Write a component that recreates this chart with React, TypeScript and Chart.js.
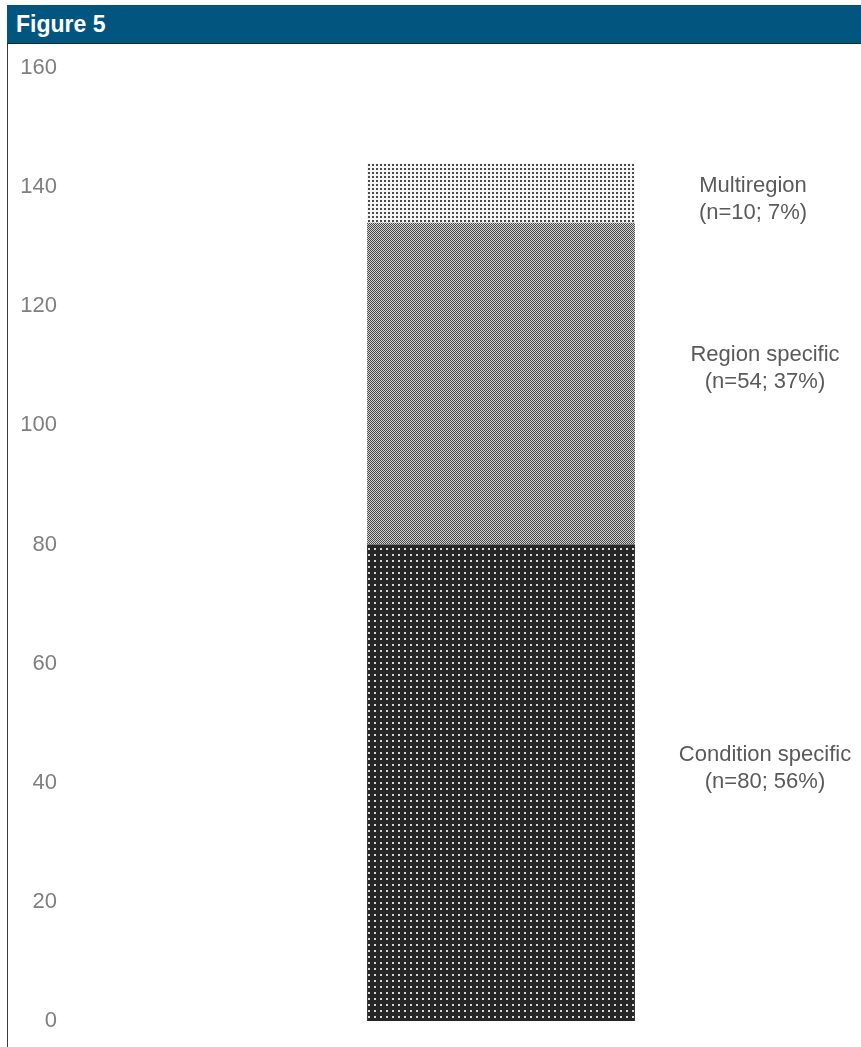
import React, { useEffect, useRef } from "react";
import { Chart, registerables } from "chart.js";

Chart.register(...registerables);

const categories = ["All"];
const seriesNames = ["Condition specific", "Region specific", "Multiregion"];
const conditionSpecific = [80];
const regionSpecific = [54];
const multiregion = [10];
const seriesLabels = [
  ["Condition specific", "(n=80; 56%)"],
  ["Region specific", "(n=54; 37%)"],
  ["Multiregion", "(n=10; 7%)"],
];
const yTicks = [0, 20, 40, 60, 80, 100, 120, 140, 160];

const FONT = "'Liberation Sans', Arial, sans-serif";

function makePattern(kind: string): CanvasPattern | string {
  const c = document.createElement("canvas");
  const ctx = c.getContext("2d");
  if (!ctx) return "#888";
  if (kind === "light") {
    c.width = 4; c.height = 4;
    ctx.fillStyle = "#f6f6f6"; ctx.fillRect(0, 0, 4, 4);
    ctx.fillStyle = "#4a4a4a"; ctx.fillRect(0, 0, 2, 2);
  } else if (kind === "mid") {
    c.width = 2; c.height = 2;
    ctx.fillStyle = "#d2d2d2"; ctx.fillRect(0, 0, 2, 2);
    ctx.fillStyle = "#484848"; ctx.fillRect(0, 0, 1, 1); ctx.fillRect(1, 1, 1, 1);
  } else {
    c.width = 6; c.height = 6;
    ctx.fillStyle = "#262626"; ctx.fillRect(0, 0, 6, 6);
    ctx.fillStyle = "#d8d8d8"; ctx.fillRect(0, 0, 2, 2);
  }
  const p = ctx.createPattern(c, "repeat");
  return p || "#888";
}

const tickPlugin = {
  id: "yTickLabels",
  afterDraw(chart: any) {
    const ctx = chart.ctx;
    const y = chart.scales.y;
    ctx.save();
    ctx.font = "22px " + FONT;
    ctx.fillStyle = "#7f7f7f";
    ctx.textAlign = "right";
    ctx.textBaseline = "middle";
    yTicks.forEach((v) => {
      ctx.fillText(String(v), 49, y.getPixelForValue(v));
    });
    ctx.restore();
  },
};

const labelPlugin = {
  id: "segLabels",
  afterDatasetsDraw(chart: any) {
    const ctx = chart.ctx;
    const offsets = [-14, -15, 6];
    const xs = [757, 757, 745];
    ctx.save();
    ctx.font = "22px " + FONT;
    ctx.fillStyle = "#5a5a5a";
    ctx.textAlign = "center";
    ctx.textBaseline = "middle";
    chart.data.datasets.forEach((ds: any, i: number) => {
      const meta = chart.getDatasetMeta(i);
      const el = meta.data[0];
      if (!el) return;
      const cy = (el.y + el.base) / 2 + offsets[i];
      const cx = xs[i];
      const lines = seriesLabels[i];
      ctx.fillText(lines[0], cx, cy - 13.5);
      ctx.fillText(lines[1], cx, cy + 13.5);
    });
    ctx.restore();
  },
};

export default function App() {
  const ref = useRef<HTMLCanvasElement | null>(null);
  useEffect(() => {
    if (!ref.current) return;
    const chart = new Chart(ref.current, {
      type: "bar",
      data: {
        labels: categories,
        datasets: [
          { label: seriesNames[0], data: conditionSpecific, backgroundColor: makePattern("dark") as any },
          { label: seriesNames[1], data: regionSpecific, backgroundColor: makePattern("mid") as any },
          { label: seriesNames[2], data: multiregion, backgroundColor: makePattern("light") as any },
        ],
      },
      options: {
        responsive: false,
        animation: false,
        layout: { padding: { top: 24, bottom: 26, left: 0, right: 0 } },
        datasets: { bar: { barPercentage: 0.372, categoryPercentage: 1 } },
        plugins: { legend: { display: false }, tooltip: { enabled: false } },
        scales: {
          x: { stacked: true, display: false },
          y: {
            stacked: true,
            min: yTicks[0],
            max: yTicks[yTicks.length - 1],
            afterFit: (s: any) => { s.width = 133; },
            grid: { display: false, drawTicks: false },
            border: { display: false },
            ticks: { display: false, stepSize: 20 },
          },
        },
      },
      plugins: [labelPlugin, tickPlugin],
    });
    return () => chart.destroy();
  }, []);

  return (
    <div>
      <div
        style={{
          position: "absolute", left: 7, top: 5, width: 854, height: 38,
          background: "#02557f", borderBottom: "1px solid #1a2a33",
          color: "#fff", fontFamily: FONT,
          fontWeight: "bold", fontSize: 23, lineHeight: "38px", paddingLeft: 9,
          boxSizing: "content-box",
        }}
      >
        Figure 5
      </div>
      <div style={{ position: "absolute", left: 7, top: 44, width: 1, height: 1003, background: "#3a3a3a" }} />
      <canvas
        ref={ref}
        width={853}
        height={1003}
        style={{ position: "absolute", left: 8, top: 44, width: 853, height: 1003 }}
      />
    </div>
  );
}
